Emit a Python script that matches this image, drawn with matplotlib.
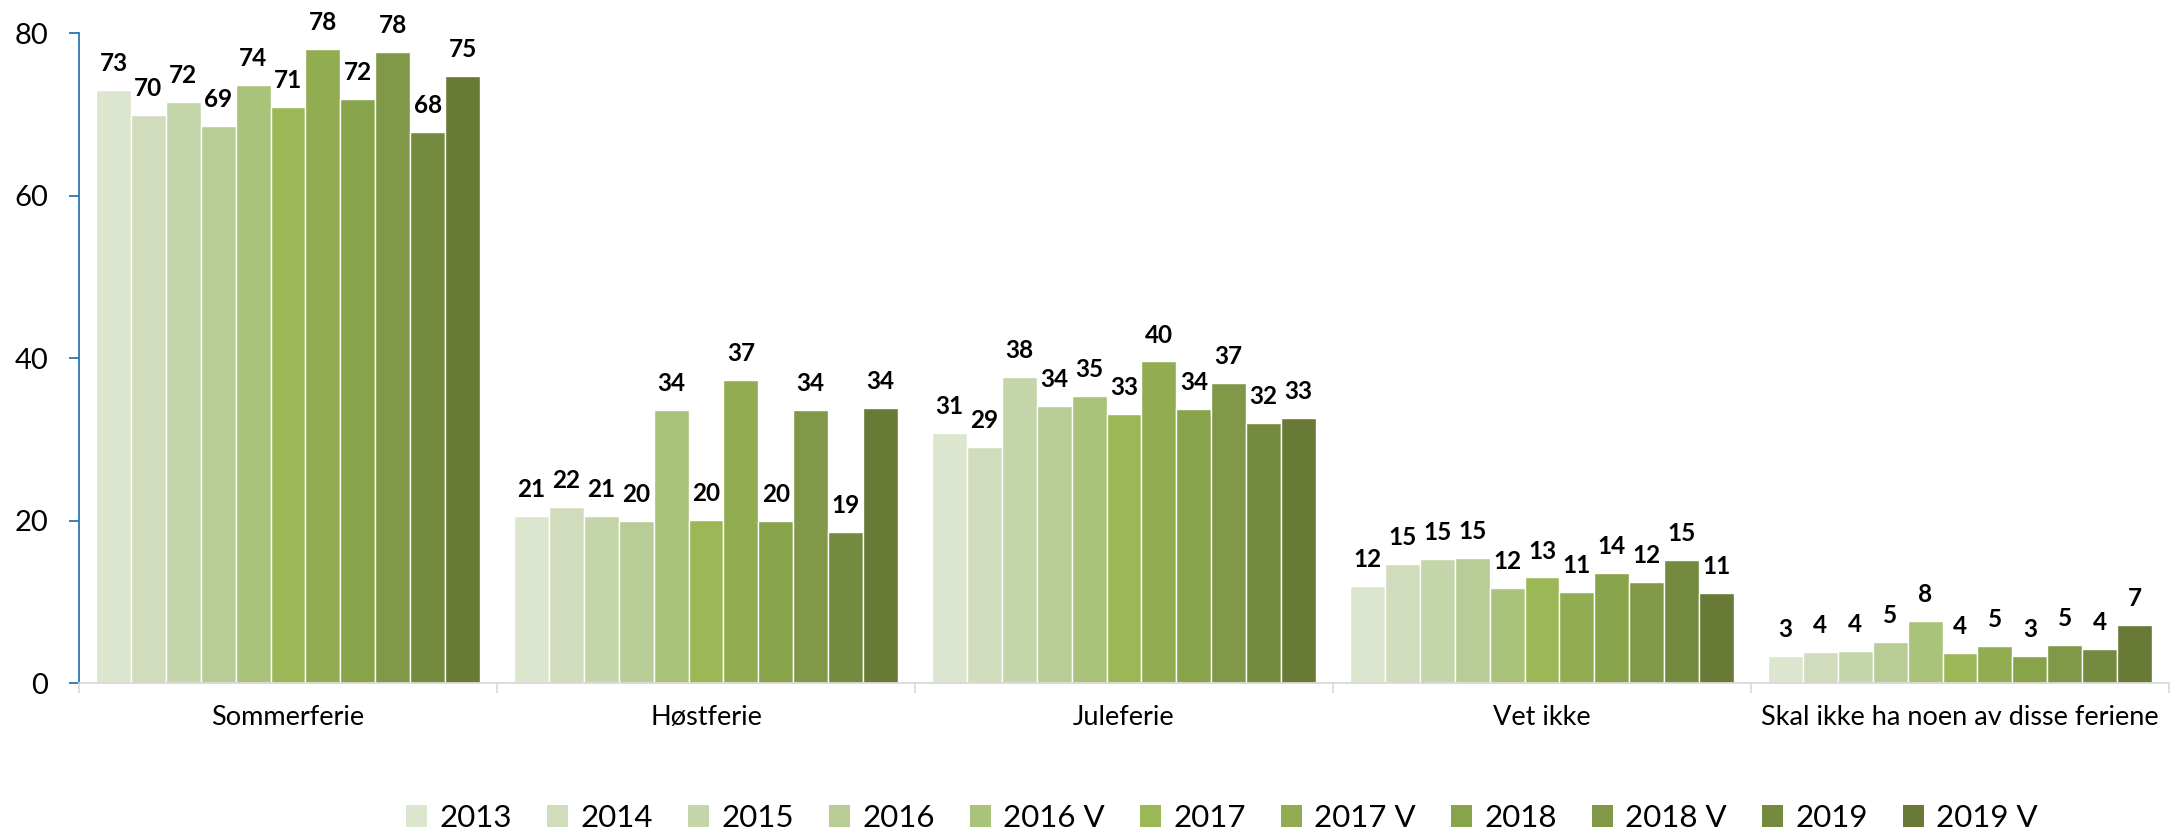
import matplotlib
matplotlib.use("Agg")
import matplotlib.pyplot as plt
import numpy as np

categories = ["Sommerferie", "Høstferie", "Juleferie", "Vet ikke",
              "Skal ikke ha noen av disse feriene"]
series = ["2013", "2014", "2015", "2016", "2016 V", "2017", "2017 V",
          "2018", "2018 V", "2019", "2019 V"]
colors = ["#DCE5CD", "#D1DCBD", "#C5D5AA", "#B8CC96", "#A9C37B", "#9CB756",
          "#92AD51", "#88A44B", "#809848", "#738A3F", "#687A36"]

sommerferie = [73.0, 69.9, 71.6, 68.6, 73.6, 70.9, 78.1, 71.9, 77.7, 67.9, 74.8]
hostferie = [20.6, 21.7, 20.6, 19.9, 33.6, 20.1, 37.3, 19.9, 33.6, 18.6, 33.9]
juleferie = [30.8, 29.1, 37.7, 34.1, 35.4, 33.1, 39.6, 33.7, 36.9, 32.0, 32.6]
vet_ikke = [11.9, 14.7, 15.3, 15.4, 11.7, 13.0, 11.2, 13.6, 12.4, 15.1, 11.1]
skal_ikke = [3.3, 3.8, 4.0, 5.1, 7.6, 3.7, 4.6, 3.3, 4.7, 4.2, 7.1]

yticks = [0, 20, 40, 60, 80]

data = np.array([sommerferie, hostferie, juleferie, vet_ikke, skal_ikke])  # cat x series

plt.rcParams['font.family'] = ['Lato', 'DejaVu Sans']

fig = plt.figure(figsize=(21.71, 8.34), dpi=100)
ax = fig.add_axes([79 / 2171, 1 - 683 / 834, (2169 - 79) / 2171, (683 - 33.3) / 834])

n = len(series)
w = 0.0835
x = np.arange(len(categories))
for j in range(n):
    xs = x + (j - (n - 1) / 2) * w
    vals = data[:, j]
    ax.bar(xs, vals, width=w, color=colors[j], edgecolor="white", linewidth=1.0,
           label=series[j], zorder=2)
    for xi, v in zip(xs, vals):
        ax.annotate(f"{v:.0f}", (xi, v), xytext=(0, 19), textcoords="offset points",
                    ha="center", va="center", fontsize=17.5, fontweight="bold",
                    color="black")

ax.set_xlim(-0.5, len(categories) - 0.5)
ax.set_ylim(0, 80)
ax.set_yticks(yticks)
ax.set_yticklabels([str(t) for t in yticks], fontsize=21)

ax.set_xticks(np.arange(len(categories) + 1) - 0.5)
ax.set_xticklabels([])
ax.set_xticks(x, minor=True)
ax.set_xticklabels(categories, minor=True, fontsize=19.5)
ax.tick_params(axis="x", which="major", length=7, width=1.2, color="#D9D9D9", direction="out")
ax.tick_params(axis="x", which="minor", length=0, pad=16)
ax.tick_params(axis="y", length=7, width=1.3, color="#2E75B6", direction="out", pad=15)

for s in ["top", "right"]:
    ax.spines[s].set_visible(False)
ax.spines["left"].set_color("#2E75B6")
ax.spines["left"].set_linewidth(1.3)
ax.spines["bottom"].set_color("#D9D9D9")
ax.spines["bottom"].set_linewidth(1.3)

leg = fig.legend(loc="center", bbox_to_anchor=(1222 / 2171, 1 - 818 / 834), ncol=n,
                 frameon=False, fontsize=22.5, handlelength=0.67, handleheight=0.67,
                 handletextpad=0.4, columnspacing=1.12, borderaxespad=0, borderpad=0)
for h in leg.legend_handles:
    h.set_edgecolor("none")

fig.savefig("out.png", dpi=100)
